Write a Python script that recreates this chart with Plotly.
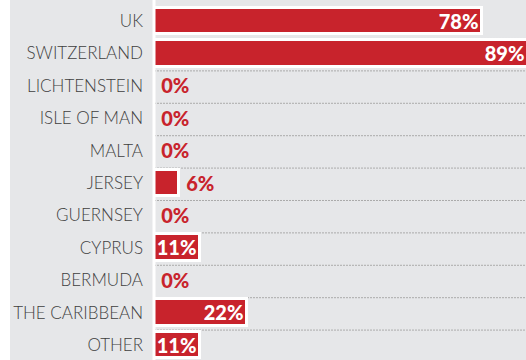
import plotly.graph_objects as go

# Share of respondents by jurisdiction
categories = ["UK", "SWITZERLAND", "LICHTENSTEIN", "ISLE OF MAN", "MALTA", "JERSEY",
              "GUERNSEY", "CYPRUS", "BERMUDA", "THE CARIBBEAN", "OTHER"]
values = [78, 89, 0, 0, 0, 6, 0, 11, 0, 22, 11]

RED = "#c8232c"
BG = "#e6e7e9"
LABEL_GREY = "#3f3f3f"

# large bars carry their label inside in white, small ones outside in red
positions = ["inside" if v >= 10 else "outside" for v in values]
text_colors = ["white" if p == "inside" else RED for p in positions]
labels = [f"{v}%" if p == "inside" else f"\u00a0{v}%" for v, p in zip(values, positions)]

fig = go.Figure(
    go.Bar(
        x=values,
        y=categories,
        orientation="h",
        width=0.83,
        marker=dict(color=RED, line=dict(color="white", width=3)),
        text=labels,
        textposition=positions,
        textfont=dict(family="Lato", size=20, weight=900, color=text_colors),
        insidetextanchor="end",
        constraintext="none",
        cliponaxis=True,
    )
)

n = len(categories)
shapes = []
# dotted separators between rows
for i in range(n - 1):
    shapes.append(dict(
        type="line", xref="paper", yref="y",
        x0=0, x1=1, y0=i + 0.54, y1=i + 0.54,
        line=dict(color="#ababab", width=1, dash="2px,1px"),
        layer="below",
    ))
# white baseline
shapes.append(dict(
    type="line", xref="paper", yref="paper",
    x0=0, x1=0, y0=0, y1=1,
    line=dict(color="white", width=3),
    layer="above",
))
# white strip on the far left
left_px = 154
plot_w = 526 - left_px
shapes.append(dict(
    type="rect", xref="paper", yref="paper",
    x0=-left_px / plot_w, x1=(10 - left_px) / plot_w, y0=0, y1=1,
    fillcolor="white", line=dict(width=0), layer="below",
))

fig.update_layout(
    width=526,
    height=360,
    margin=dict(l=left_px, r=0, t=0, b=0),
    paper_bgcolor=BG,
    plot_bgcolor=BG,
    showlegend=False,
    bargap=0,
    shapes=shapes,
    xaxis=dict(range=[0, 88.47], visible=False, fixedrange=True),
    yaxis=dict(
        range=[10.463, -0.648],
        showgrid=False,
        zeroline=False,
        showline=False,
        ticks="",
        ticklabelstandoff=10,
        tickfont=dict(family="Lato", size=17, weight=300, color=LABEL_GREY),
        fixedrange=True,
    ),
)

fig.write_html("out.html")
